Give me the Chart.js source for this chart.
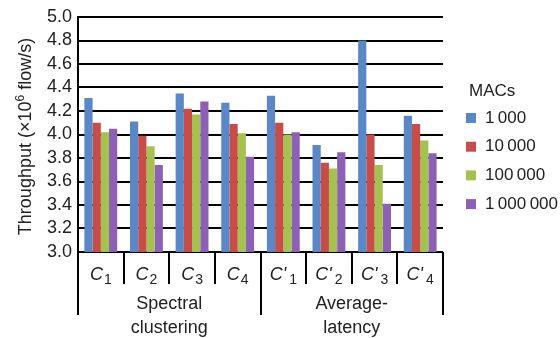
<!DOCTYPE html>
<html>
<head>
<meta charset="utf-8">
<script src="https://cdn.jsdelivr.net/npm/chart.js@4.4.1/dist/chart.umd.min.js"></script>
<style>
  html, body { margin: 0; padding: 0; background: #fff; }
  #wrap { width: 560px; height: 338px; position: relative; }
</style>
</head>
<body>
<div id="wrap"><canvas id="c" width="560" height="338"></canvas></div>
<script>
// Clusters on the x axis (prime marks the average-latency variants)
const clusterNames = ['C', 'C', 'C', 'C', 'C', 'C', 'C', 'C'];
const clusterPrimes = [false, false, false, false, true, true, true, true];
const clusterIndex = ['1', '2', '3', '4', '1', '2', '3', '4'];
const groupLabels = [['Spectral', 'clustering'], ['Average-', 'latency']];
const groupSizes = [4, 4];

// Number of MACs per series
const seriesLabels = ['1\u2009000', '10\u2009000', '100\u2009000', '1\u2009000\u2009000'];
const seriesColors = ['#5a87c5', '#c84c48', '#a5c150', '#8c60b4'];

// Throughput (x10^6 flow/s)
const macs1k   = [4.31, 4.11, 4.35, 4.27, 4.33, 3.91, 4.80, 4.16];
const macs10k  = [4.10, 3.99, 4.22, 4.09, 4.10, 3.76, 4.00, 4.09];
const macs100k = [4.02, 3.90, 4.17, 4.01, 4.00, 3.71, 3.74, 3.95];
const macs1m   = [4.05, 3.74, 4.28, 3.81, 4.02, 3.85, 3.41, 3.84];

const yTicks = [3.0, 3.2, 3.4, 3.6, 3.8, 4.0, 4.2, 4.4, 4.6, 4.8, 5.0];
const yTitle = ['Throughput (\u00d710', '6', ' flow/s)'];

const FONT = "'Liberation Sans', Arial, sans-serif";
const seriesValues = [macs1k, macs10k, macs100k, macs1m];

const labelsPlugin = {
  id: 'clusterLabels',
  afterDraw(chart) {
    const ctx = chart.ctx;
    const xs = chart.scales.x;
    const ys = chart.scales.y;
    const n = clusterNames.length;
    const cw = (xs.right - xs.left) / n;
    const base = ys.bottom;
    ctx.save();
    ctx.strokeStyle = '#000';
    ctx.lineWidth = 2;
    // separators between clusters and between groups
    const groupEdges = [0];
    groupSizes.reduce((acc, s) => { groupEdges.push(acc + s); return acc + s; }, 0);
    for (let i = 0; i <= n; i++) {
      const x = Math.round(xs.left + i * cw);
      const isGroup = groupEdges.includes(i);
      ctx.beginPath();
      ctx.moveTo(x, base);
      ctx.lineTo(x, base + (isGroup ? 63 : 32));
      ctx.stroke();
    }
    // cluster labels: italic C, optional prime, subscript digit
    ctx.fillStyle = '#222';
    ctx.textBaseline = 'alphabetic';
    ctx.textAlign = 'left';
    for (let i = 0; i < n; i++) {
      const cx = xs.getPixelForValue(i);
      const y = base + 28;
      const mainFont = 'italic 18px ' + FONT;
      const subFont = '14px ' + FONT;
      ctx.font = mainFont;
      const wC = ctx.measureText(clusterNames[i]).width;
      const prime = clusterPrimes[i] ? '\'' : '';
      const wP = prime ? ctx.measureText(prime).width : 0;
      ctx.font = subFont;
      const wS = ctx.measureText(clusterIndex[i]).width;
      const gap = prime ? 3 : 1;
      const total = wC + wP + gap + wS;
      let x = cx - total / 2;
      ctx.font = mainFont;
      ctx.fillText(clusterNames[i], x, y);
      x += wC;
      if (prime) { ctx.fillText(prime, x, y); x += wP; }
      x += gap;
      ctx.font = subFont;
      ctx.fillText(clusterIndex[i], x, y + 4);
    }
    // group labels
    ctx.font = '18px ' + FONT;
    ctx.textAlign = 'center';
    let start = 0;
    groupLabels.forEach((lines, g) => {
      const cx = xs.left + (start + groupSizes[g] / 2) * cw;
      lines.forEach((t, k) => ctx.fillText(t, cx, base + 57 + k * 24));
      start += groupSizes[g];
    });
    // rotated y-axis title with superscript exponent
    ctx.save();
    ctx.translate(31, (ys.top + ys.bottom) / 2 + 2);
    ctx.rotate(-Math.PI / 2);
    const tf = '18px ' + FONT, sf = '12px ' + FONT;
    ctx.font = tf;
    const w0 = ctx.measureText(yTitle[0]).width;
    const w2 = ctx.measureText(yTitle[2]).width;
    ctx.font = sf;
    const w1 = ctx.measureText(yTitle[1]).width;
    let tx = -(w0 + w1 + w2) / 2;
    ctx.textAlign = 'left';
    ctx.font = tf;
    ctx.fillText(yTitle[0], tx, 0);
    tx += w0;
    ctx.font = sf;
    ctx.fillText(yTitle[1], tx, -7);
    tx += w1;
    ctx.font = tf;
    ctx.fillText(yTitle[2], tx, 0);
    ctx.restore();
    // legend
    ctx.textAlign = 'left';
    ctx.textBaseline = 'middle';
    ctx.font = '17px ' + FONT;
    ctx.fillStyle = '#222';
    ctx.fillText('MACs', 469, 91);
    chart.data.datasets.forEach((ds, k) => {
      const yy = 118 + k * 28.7;
      ctx.fillStyle = ds.backgroundColor;
      ctx.fillRect(466, yy - 5, 10, 10);
      ctx.fillStyle = '#222';
      ctx.fillText(ds.label, 485, yy);
    });
    ctx.restore();
  }
};

new Chart(document.getElementById('c'), {
  type: 'bar',
  data: {
    labels: clusterNames.map((c, i) => c + (clusterPrimes[i] ? '\'' : '') + clusterIndex[i]),
    datasets: seriesLabels.map((label, k) => ({
      label: label,
      data: seriesValues[k],
      backgroundColor: seriesColors[k],
      borderWidth: 0,
      categoryPercentage: 0.72,
      barPercentage: 1.0
    }))
  },
  options: {
    responsive: false,
    animation: false,
    layout: { padding: { left: 0, right: 117, top: 17, bottom: 0 } },
    plugins: {
      legend: { display: false },
      tooltip: { enabled: false }
    },
    scales: {
      x: {
        grid: { display: false, drawTicks: false },
        border: { display: false },
        ticks: { display: false },
        afterFit(scale) { scale.height = 86; }
      },
      y: {
        min: 3.0,
        max: 5.0,
        afterBuildTicks(scale) { scale.ticks = yTicks.map(v => ({ value: v })); },
        afterFit(scale) { scale.width = 78; },
        grid: { color: '#000', lineWidth: 2, drawTicks: false },
        border: { color: '#000', width: 2 },
        ticks: {
          autoSkip: false,
          padding: 6,
          color: '#222',
          font: { family: FONT, size: 18 },
          callback: v => Number(v).toFixed(1)
        },
        title: { display: false }
      }
    }
  },
  plugins: [labelsPlugin]
});
</script>
</body>
</html>
